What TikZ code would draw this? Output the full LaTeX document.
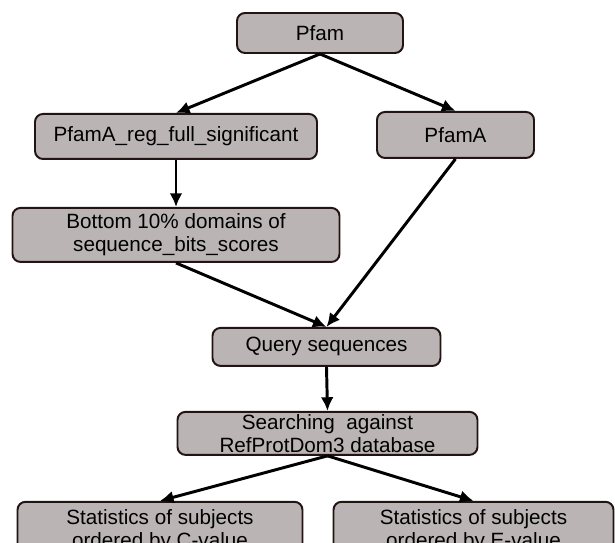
\documentclass[tikz,border=0pt]{standalone}
\usepackage{fontspec}
\setmainfont{Liberation Sans}
\usetikzlibrary{positioning,arrows.meta}
\definecolor{boxgray}{RGB}{186,180,180}
\definecolor{boxline}{RGB}{35,20,20}

\begin{document}
\begin{tikzpicture}[
	box/.style={draw=boxline, fill=boxgray, line width=1.4pt, rounded corners=0.2cm, inner sep=0pt, align=center, font=\fontsize{14.7}{16.2}\selectfont},
	link/.style={-{Latex[length=0.34cm,width=0.32cm]}, line width=2.1pt, black}]
	\clip (0,0) rectangle (15.375,-13.575);
	
	\node[box, minimum width=4.15cm, minimum height=1cm] (p1) at (8,-0.825) {Pfam};
	\node[box, minimum width=7.05cm, minimum height=1.125cm, below=1.475cm of p1, xshift=-3.6cm] (p2) {PfamA\_reg\_full\_significant};
	\node[box, minimum width=3.925cm, minimum height=1.15cm, below=1.425cm of p1, xshift=3.3875cm] (p3) {PfamA};
	\node[box, minimum width=8.175cm, minimum height=1.35cm, below=1.175cm of p2] (b1) {Bottom 10\% domains of\\sequence\_bits\_scores};
	
	\node[box, minimum width=5.7cm, minimum height=0.95cm, below=1.6cm of b1, xshift=3.7625cm] (q1) {Query sequences};
	\node[box, minimum width=7.5cm, minimum height=1.075cm, below=1.1cm of q1, xshift=0.025cm] (s1) {Searching~ against\\RefProtDom3 database};
	
	\node[box, minimum width=7.125cm, minimum height=1.45cm, below=1.125cm of s1, xshift=-4.1875cm] (c1) {Statistics of subjects\\ordered by C-value};
	\node[box, minimum width=7cm, minimum height=1.45cm, below=1.125cm of s1, xshift=3.65cm] (e1) {Statistics of subjects\\ordered by E-value};
	
	\draw[link] (p1.south) -- (p2.north);
	\draw[link] (p1.south) -- (p3.north);
	\draw[link] (p2.south) -- (b1.north);
	\draw[link] (b1.south) -- (q1.north);
	\draw[link] (p3.south) -- (q1.north);
	\draw[link] (q1.south) -- (s1.north);
	\draw[link] (s1.south) -- (c1.north);
	\draw[link] (s1.south) -- (e1.north);
\end{tikzpicture}
\end{document}
